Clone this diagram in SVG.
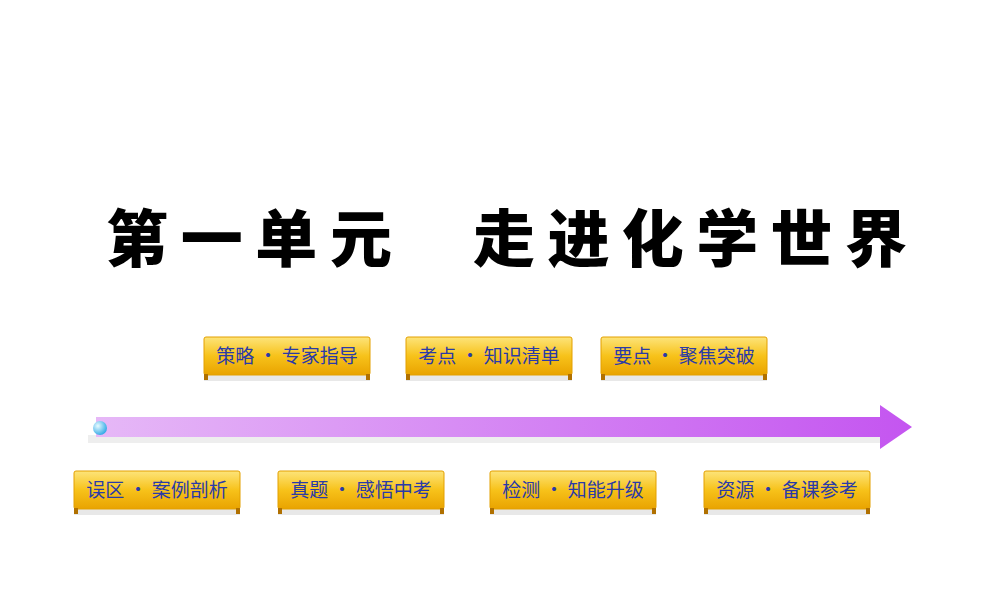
<svg xmlns="http://www.w3.org/2000/svg" width="1000" height="600" viewBox="0 0 1000 600">
<defs>
<linearGradient id="gold" x1="0" y1="0" x2="0" y2="1"><stop offset="0" stop-color="#fde47a"/><stop offset="0.5" stop-color="#f7c21a"/><stop offset="1" stop-color="#e9a300"/></linearGradient>
<linearGradient id="bar" x1="0" y1="0" x2="1" y2="0"><stop offset="0" stop-color="#e6b8f7"/><stop offset="1" stop-color="#c455f0"/></linearGradient>
<radialGradient id="ball" cx="0.35" cy="0.35" r="0.7"><stop offset="0" stop-color="#e8fbff"/><stop offset="1" stop-color="#2fa8e6"/></radialGradient>
<g id="btn"><rect x="0" y="36" width="166" height="8" fill="#e8e8e8"/><rect x="0" y="0" width="166" height="38" rx="2" fill="url(#gold)" stroke="#e3a000" stroke-width="1"/><rect x="0" y="37" width="4" height="6" fill="#b07000"/><rect x="162" y="37" width="4" height="6" fill="#b07000"/></g>
</defs>
<style>.t{font-family:"Noto Sans CJK SC",sans-serif;font-size:19px;fill:#2a3aa8;text-anchor:middle}.h{font-family:"Noto Sans CJK SC",sans-serif;font-size:62px;font-weight:900;fill:#000}</style>
<rect width="1000" height="600" fill="#fff"/>
<g id="title"><text class="h" x="106" y="262" textLength="286">第一单元</text><text class="h" x="473" y="262" textLength="434">走进化学世界</text></g>
<g id="connectors"><rect x="88" y="435" width="800" height="8" fill="#eeeeee"/><path d="M96 417 H880 V405 L912 427 L880 449 V437 H96 Z" fill="url(#bar)"/><circle cx="100" cy="428" r="7" fill="url(#ball)"/></g>
<g id="n1"><use href="#btn" x="204" y="337"/><text class="t" x="287" y="363">策略 · 专家指导</text></g>
<g id="n2"><use href="#btn" x="406" y="337"/><text class="t" x="489" y="363">考点 · 知识清单</text></g>
<g id="n3"><use href="#btn" x="601" y="337"/><text class="t" x="684" y="363">要点 · 聚焦突破</text></g>
<g id="n4"><use href="#btn" x="74" y="471"/><text class="t" x="157" y="497">误区 · 案例剖析</text></g>
<g id="n5"><use href="#btn" x="278" y="471"/><text class="t" x="361" y="497">真题 · 感悟中考</text></g>
<g id="n6"><use href="#btn" x="490" y="471"/><text class="t" x="573" y="497">检测 · 知能升级</text></g>
<g id="n7"><use href="#btn" x="704" y="471"/><text class="t" x="787" y="497">资源 · 备课参考</text></g>
</svg>
